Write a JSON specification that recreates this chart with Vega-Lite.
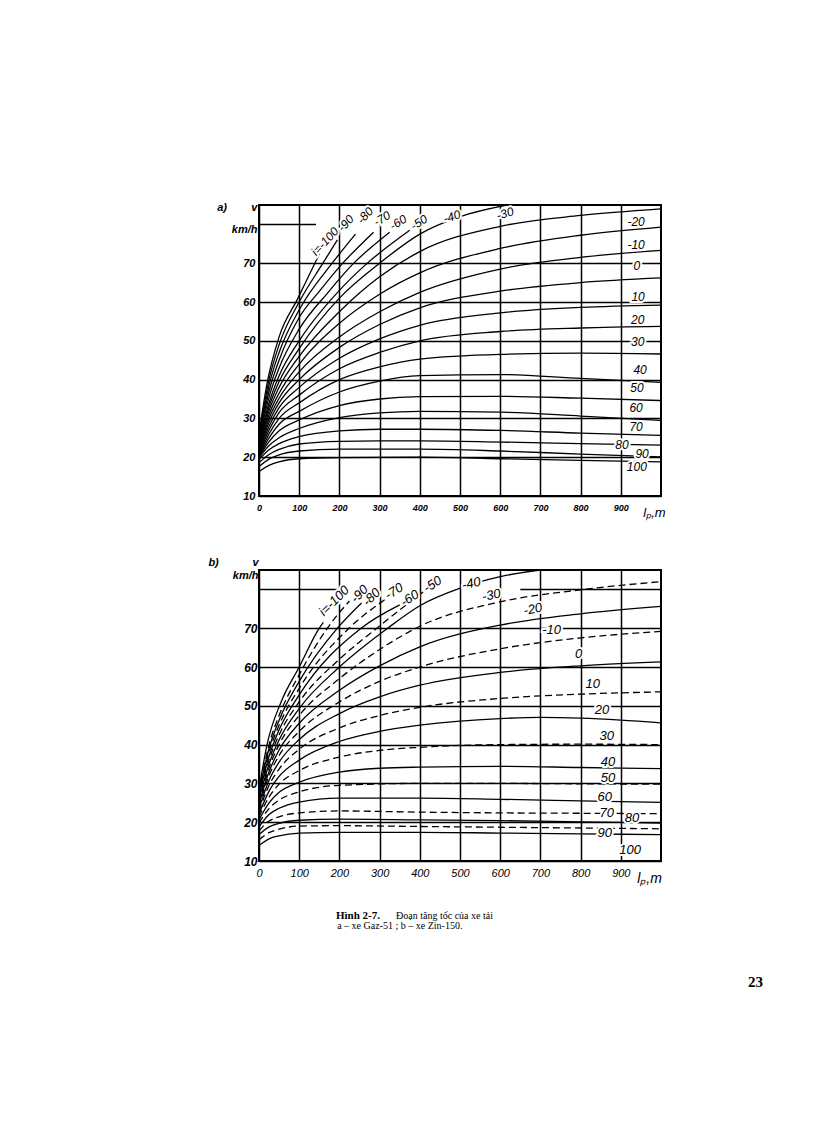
{
"$schema":"https://vega.github.io/schema/vega-lite/v6.json",
"background":"white",
"padding":{"left":206,"top":200,"right":5,"bottom":5},
"bounds":"full",
"spacing":14,
"datasets":{
"ca":[
{"i":-100,"x":0,"v":26},{"i":-100,"x":20,"v":39},{"i":-100,"x":50,"v":51},{"i":-100,"x":97,"v":61},{"i":-100,"x":139,"v":70},{"i":-100,"x":150,"v":72.3},
{"i":-90,"x":0,"v":25.5},{"i":-90,"x":25,"v":40},{"i":-90,"x":50,"v":49},{"i":-90,"x":100,"v":60},{"i":-90,"x":159,"v":70},{"i":-90,"x":195,"v":76},
{"i":-80,"x":0,"v":25},{"i":-80,"x":25,"v":38.5},{"i":-80,"x":50,"v":47},{"i":-80,"x":100,"v":58},{"i":-80,"x":182,"v":70},{"i":-80,"x":240,"v":77.5},
{"i":-70,"x":0,"v":24.5},{"i":-70,"x":25,"v":37},{"i":-70,"x":50,"v":45},{"i":-70,"x":100,"v":56},{"i":-70,"x":152,"v":63},{"i":-70,"x":204,"v":69.5},{"i":-70,"x":285,"v":78},
{"i":-60,"x":0,"v":24},{"i":-60,"x":25,"v":35.5},{"i":-60,"x":50,"v":43},{"i":-60,"x":100,"v":53},{"i":-60,"x":172,"v":62.5},{"i":-60,"x":231,"v":69.5},{"i":-60,"x":325,"v":78},
{"i":-50,"x":0,"v":23.5},{"i":-50,"x":25,"v":34},{"i":-50,"x":50,"v":41},{"i":-50,"x":100,"v":50},{"i":-50,"x":200,"v":63},{"i":-50,"x":264,"v":69.5},{"i":-50,"x":375,"v":78.5},
{"i":-40,"x":0,"v":23},{"i":-40,"x":25,"v":33},{"i":-40,"x":50,"v":39.5},{"i":-40,"x":100,"v":48},{"i":-40,"x":200,"v":61},{"i":-40,"x":300,"v":70},{"i":-40,"x":400,"v":77.5},{"i":-40,"x":500,"v":82},{"i":-40,"x":617,"v":85},
{"i":-30,"x":0,"v":22.5},{"i":-30,"x":25,"v":32},{"i":-30,"x":50,"v":38},{"i":-30,"x":100,"v":46},{"i":-30,"x":200,"v":57.5},{"i":-30,"x":300,"v":66.5},{"i":-30,"x":400,"v":73},{"i":-30,"x":600,"v":79.5},{"i":-30,"x":800,"v":82.3},{"i":-30,"x":1000,"v":84},
{"i":-20,"x":0,"v":22},{"i":-20,"x":25,"v":31},{"i":-20,"x":50,"v":36.5},{"i":-20,"x":100,"v":44},{"i":-20,"x":200,"v":54.5},{"i":-20,"x":300,"v":62},{"i":-20,"x":400,"v":67.5},{"i":-20,"x":600,"v":73.8},{"i":-20,"x":800,"v":77.2},{"i":-20,"x":1000,"v":79.3},
{"i":-10,"x":0,"v":21.6},{"i":-10,"x":25,"v":30},{"i":-10,"x":50,"v":35.2},{"i":-10,"x":100,"v":42},{"i":-10,"x":200,"v":51},{"i":-10,"x":300,"v":57.5},{"i":-10,"x":400,"v":62.5},{"i":-10,"x":600,"v":68.5},{"i":-10,"x":800,"v":71.5},{"i":-10,"x":1000,"v":73.3},
{"i":0,"x":0,"v":21.2},{"i":0,"x":25,"v":29},{"i":0,"x":50,"v":34},{"i":0,"x":100,"v":40},{"i":0,"x":200,"v":48.3},{"i":0,"x":300,"v":54.2},{"i":0,"x":400,"v":58.5},{"i":0,"x":600,"v":62.8},{"i":0,"x":800,"v":65},{"i":0,"x":1000,"v":66.2},
{"i":10,"x":0,"v":20.9},{"i":10,"x":25,"v":28},{"i":10,"x":50,"v":32.8},{"i":10,"x":100,"v":38},{"i":10,"x":200,"v":45.5},{"i":10,"x":300,"v":50.5},{"i":10,"x":400,"v":54},{"i":10,"x":600,"v":57.2},{"i":10,"x":800,"v":58.6},{"i":10,"x":1000,"v":59.2},
{"i":20,"x":0,"v":20.6},{"i":20,"x":25,"v":27},{"i":20,"x":50,"v":31.5},{"i":20,"x":100,"v":36},{"i":20,"x":200,"v":42.8},{"i":20,"x":300,"v":47},{"i":20,"x":400,"v":50},{"i":20,"x":600,"v":52.4},{"i":20,"x":800,"v":53.3},{"i":20,"x":1000,"v":53.7},
{"i":30,"x":0,"v":20.4},{"i":30,"x":25,"v":26},{"i":30,"x":50,"v":30},{"i":30,"x":100,"v":34},{"i":30,"x":200,"v":40},{"i":30,"x":300,"v":43.3},{"i":30,"x":400,"v":45.3},{"i":30,"x":600,"v":46.5},{"i":30,"x":800,"v":46.8},{"i":30,"x":1000,"v":46.6},
{"i":40,"x":0,"v":20.2},{"i":40,"x":25,"v":25},{"i":40,"x":50,"v":28.5},{"i":40,"x":100,"v":31.8},{"i":40,"x":200,"v":36.8},{"i":40,"x":300,"v":39.6},{"i":40,"x":400,"v":41},{"i":40,"x":600,"v":41.3},{"i":40,"x":800,"v":40.3},{"i":40,"x":1000,"v":39.3},
{"i":50,"x":0,"v":20},{"i":50,"x":25,"v":24},{"i":50,"x":50,"v":26.8},{"i":50,"x":100,"v":29.6},{"i":50,"x":200,"v":33.3},{"i":50,"x":300,"v":35},{"i":50,"x":400,"v":35.6},{"i":50,"x":600,"v":35.7},{"i":50,"x":800,"v":35.2},{"i":50,"x":1000,"v":34.6},
{"i":60,"x":0,"v":19.8},{"i":60,"x":25,"v":23},{"i":60,"x":50,"v":25},{"i":60,"x":100,"v":27.4},{"i":60,"x":200,"v":30.2},{"i":60,"x":300,"v":31.4},{"i":60,"x":400,"v":31.8},{"i":60,"x":600,"v":31.6},{"i":60,"x":800,"v":30.6},{"i":60,"x":1000,"v":29.5},
{"i":70,"x":0,"v":19.4},{"i":70,"x":25,"v":21.9},{"i":70,"x":50,"v":23.5},{"i":70,"x":100,"v":25.3},{"i":70,"x":200,"v":26.8},{"i":70,"x":300,"v":27.2},{"i":70,"x":400,"v":27.2},{"i":70,"x":600,"v":26.9},{"i":70,"x":800,"v":26.2},{"i":70,"x":1000,"v":25.6},
{"i":80,"x":0,"v":18.6},{"i":80,"x":25,"v":20.7},{"i":80,"x":50,"v":22},{"i":80,"x":100,"v":23.4},{"i":80,"x":200,"v":24.1},{"i":80,"x":300,"v":24.2},{"i":80,"x":400,"v":24.2},{"i":80,"x":600,"v":23.9},{"i":80,"x":800,"v":23.5},{"i":80,"x":1000,"v":23.1},
{"i":90,"x":0,"v":17.6},{"i":90,"x":25,"v":19.5},{"i":90,"x":50,"v":20.6},{"i":90,"x":100,"v":21.6},{"i":90,"x":200,"v":22.1},{"i":90,"x":400,"v":22.1},{"i":90,"x":600,"v":21.6},{"i":90,"x":800,"v":20.8},{"i":90,"x":1000,"v":20.1},
{"i":100,"x":0,"v":16.3},{"i":100,"x":25,"v":17.9},{"i":100,"x":50,"v":18.8},{"i":100,"x":100,"v":19.6},{"i":100,"x":200,"v":19.9},{"i":100,"x":400,"v":20},{"i":100,"x":600,"v":19.6},{"i":100,"x":800,"v":19.2},{"i":100,"x":1000,"v":18.8}
],
"cb":[
{"i":-100,"x":0,"v":28.4},{"i":-100,"x":20,"v":40},{"i":-100,"x":55,"v":51},{"i":-100,"x":100,"v":60},{"i":-100,"x":150,"v":70},{"i":-100,"x":160,"v":71.5},
{"i":-90,"x":0,"v":28},{"i":-90,"x":25,"v":40},{"i":-90,"x":50,"v":47.5},{"i":-90,"x":100,"v":58},{"i":-90,"x":170,"v":70},{"i":-90,"x":225,"v":77},
{"i":-80,"x":0,"v":27.6},{"i":-80,"x":25,"v":39},{"i":-80,"x":50,"v":46.3},{"i":-80,"x":100,"v":56.3},{"i":-80,"x":195,"v":70},{"i":-80,"x":255,"v":76.5},
{"i":-70,"x":0,"v":27.2},{"i":-70,"x":25,"v":38},{"i":-70,"x":50,"v":45},{"i":-70,"x":100,"v":54.5},{"i":-70,"x":224,"v":70},{"i":-70,"x":315,"v":77.5},
{"i":-60,"x":0,"v":26.8},{"i":-60,"x":25,"v":37},{"i":-60,"x":50,"v":43.8},{"i":-60,"x":100,"v":52.8},{"i":-60,"x":254,"v":70},{"i":-60,"x":350,"v":76},
{"i":-50,"x":0,"v":26.3},{"i":-50,"x":25,"v":36},{"i":-50,"x":50,"v":42.5},{"i":-50,"x":100,"v":51},{"i":-50,"x":200,"v":62},{"i":-50,"x":287,"v":69.5},{"i":-50,"x":410,"v":79.5},
{"i":-40,"x":0,"v":25.8},{"i":-40,"x":25,"v":35},{"i":-40,"x":50,"v":41.2},{"i":-40,"x":100,"v":49.3},{"i":-40,"x":200,"v":60},{"i":-40,"x":320,"v":70},{"i":-40,"x":400,"v":75.8},{"i":-40,"x":500,"v":80.3},{"i":-40,"x":600,"v":83.3},{"i":-40,"x":700,"v":85},
{"i":-30,"x":0,"v":25.2},{"i":-30,"x":25,"v":34},{"i":-30,"x":50,"v":40},{"i":-30,"x":100,"v":47.5},{"i":-30,"x":200,"v":57},{"i":-30,"x":300,"v":64.5},{"i":-30,"x":400,"v":70.5},{"i":-30,"x":600,"v":76.8},{"i":-30,"x":800,"v":79.9},{"i":-30,"x":1000,"v":82},
{"i":-20,"x":0,"v":24.6},{"i":-20,"x":25,"v":33},{"i":-20,"x":50,"v":38.6},{"i":-20,"x":100,"v":45.5},{"i":-20,"x":200,"v":54},{"i":-20,"x":300,"v":60.3},{"i":-20,"x":400,"v":65.2},{"i":-20,"x":600,"v":70.8},{"i":-20,"x":800,"v":73.7},{"i":-20,"x":1000,"v":75.6},
{"i":-10,"x":0,"v":24},{"i":-10,"x":25,"v":32},{"i":-10,"x":50,"v":37.2},{"i":-10,"x":100,"v":43.4},{"i":-10,"x":200,"v":51},{"i":-10,"x":300,"v":56.3},{"i":-10,"x":400,"v":60},{"i":-10,"x":600,"v":64.7},{"i":-10,"x":800,"v":67.5},{"i":-10,"x":1000,"v":69.2},
{"i":0,"x":0,"v":23.4},{"i":0,"x":25,"v":30.8},{"i":0,"x":50,"v":35.5},{"i":0,"x":100,"v":41.3},{"i":0,"x":200,"v":48},{"i":0,"x":300,"v":52.3},{"i":0,"x":400,"v":55.3},{"i":0,"x":600,"v":58.6},{"i":0,"x":800,"v":60.3},{"i":0,"x":1000,"v":61.3},
{"i":10,"x":0,"v":22.8},{"i":10,"x":25,"v":29.5},{"i":10,"x":50,"v":33.7},{"i":10,"x":100,"v":38.8},{"i":10,"x":200,"v":44.3},{"i":10,"x":300,"v":47.5},{"i":10,"x":400,"v":49.6},{"i":10,"x":600,"v":51.9},{"i":10,"x":800,"v":53},{"i":10,"x":1000,"v":53.6},
{"i":20,"x":0,"v":22.1},{"i":20,"x":25,"v":28},{"i":20,"x":50,"v":31.8},{"i":20,"x":100,"v":36},{"i":20,"x":200,"v":40.8},{"i":20,"x":300,"v":43.4},{"i":20,"x":400,"v":45},{"i":20,"x":600,"v":46.7},{"i":20,"x":700,"v":47},{"i":20,"x":800,"v":46.8},{"i":20,"x":900,"v":46.3},{"i":20,"x":1000,"v":45.6},
{"i":30,"x":0,"v":21.4},{"i":30,"x":25,"v":26.5},{"i":30,"x":50,"v":29.8},{"i":30,"x":100,"v":33.3},{"i":30,"x":200,"v":36.8},{"i":30,"x":300,"v":38.5},{"i":30,"x":400,"v":39.3},{"i":30,"x":600,"v":40},{"i":30,"x":800,"v":40.1},{"i":30,"x":1000,"v":40},
{"i":40,"x":0,"v":20.6},{"i":40,"x":25,"v":25},{"i":40,"x":50,"v":27.7},{"i":40,"x":100,"v":30.3},{"i":40,"x":200,"v":32.9},{"i":40,"x":300,"v":33.9},{"i":40,"x":400,"v":34.2},{"i":40,"x":600,"v":34.4},{"i":40,"x":800,"v":34.1},{"i":40,"x":1000,"v":33.8},
{"i":50,"x":0,"v":19.8},{"i":50,"x":25,"v":23.5},{"i":50,"x":50,"v":25.7},{"i":50,"x":100,"v":27.8},{"i":50,"x":200,"v":29.5},{"i":50,"x":400,"v":30},{"i":50,"x":600,"v":30},{"i":50,"x":800,"v":29.9},{"i":50,"x":1000,"v":29.8},
{"i":60,"x":0,"v":18.8},{"i":60,"x":25,"v":22},{"i":60,"x":50,"v":23.6},{"i":60,"x":100,"v":25.2},{"i":60,"x":200,"v":26.2},{"i":60,"x":400,"v":26.2},{"i":60,"x":600,"v":25.9},{"i":60,"x":800,"v":25.5},{"i":60,"x":1000,"v":25.1},
{"i":70,"x":0,"v":17.8},{"i":70,"x":25,"v":20.3},{"i":70,"x":50,"v":21.4},{"i":70,"x":100,"v":22.4},{"i":70,"x":200,"v":22.9},{"i":70,"x":400,"v":22.6},{"i":70,"x":600,"v":22.4},{"i":70,"x":800,"v":22.3},{"i":70,"x":1000,"v":22.2},
{"i":80,"x":0,"v":16.8},{"i":80,"x":25,"v":18.8},{"i":80,"x":50,"v":19.7},{"i":80,"x":100,"v":20.5},{"i":80,"x":200,"v":20.8},{"i":80,"x":400,"v":20.6},{"i":80,"x":600,"v":20.4},{"i":80,"x":800,"v":20.1},{"i":80,"x":1000,"v":19.8},
{"i":90,"x":0,"v":15.5},{"i":90,"x":25,"v":17.3},{"i":90,"x":50,"v":18.2},{"i":90,"x":100,"v":19},{"i":90,"x":200,"v":19.1},{"i":90,"x":400,"v":18.9},{"i":90,"x":600,"v":18.7},{"i":90,"x":800,"v":18.5},{"i":90,"x":1000,"v":18.3},
{"i":100,"x":0,"v":14},{"i":100,"x":25,"v":15.7},{"i":100,"x":50,"v":16.5},{"i":100,"x":100,"v":17.2},{"i":100,"x":200,"v":17.4},{"i":100,"x":400,"v":17.4},{"i":100,"x":600,"v":17.2},{"i":100,"x":800,"v":17},{"i":100,"x":1000,"v":16.8}
],
"ga":[{"x":0,"x2":142,"v":80}],
"gb":[{"x":0,"x2":195,"v":80},{"x":650,"x2":1000,"v":80}],
"la":[
{"t":"i=-100","x":164,"v":75.6,"g":"s"},{"t":"-90","x":216,"v":80.3,"g":"s"},{"t":"-80","x":264,"v":82.3,"g":"s"},
{"t":"-70","x":306,"v":81.5,"g":"m"},{"t":"-60","x":346,"v":80.5,"g":"m"},{"t":"-50","x":398,"v":80.5,"g":"m"},
{"t":"-40","x":480,"v":82,"g":"l"},{"t":"-30","x":612,"v":82.8,"g":"l"},
{"t":"-20","x":938,"v":80.6,"g":"f"},{"t":"-10","x":938,"v":74.6,"g":"f"},{"t":"0","x":940,"v":69.2,"g":"f"},{"t":"10","x":943,"v":61.4,"g":"f"},{"t":"20","x":942,"v":55.4,"g":"f"},{"t":"30","x":942,"v":49.8,"g":"f"},{"t":"40","x":948,"v":42.6,"g":"f"},{"t":"50","x":940,"v":37.9,"g":"f"},{"t":"60","x":938,"v":32.6,"g":"f"},{"t":"70","x":938,"v":27.7,"g":"f"},{"t":"80","x":903,"v":23.1,"g":"f"},{"t":"90","x":953,"v":20.8,"g":"f"},{"t":"100","x":940,"v":17.5,"g":"f"}
],
"lb":[
{"t":"i=-100","x":187,"v":77,"g":"s"},{"t":"-90","x":250,"v":78.8,"g":"s"},{"t":"-80","x":280,"v":78,"g":"s"},
{"t":"-70","x":336,"v":79.5,"g":"m"},{"t":"-60","x":375,"v":77.7,"g":"m"},{"t":"-50","x":432,"v":81.3,"g":"m"},
{"t":"-40","x":528,"v":81.5,"g":"l"},{"t":"-30","x":578,"v":78.5,"g":"l"},{"t":"-20","x":681,"v":74.9,"g":"l"},
{"t":"-10","x":728,"v":69.5,"g":"f"},{"t":"0","x":795,"v":63.3,"g":"f"},{"t":"10","x":830,"v":55.6,"g":"f"},{"t":"20","x":853,"v":49,"g":"f"},{"t":"30","x":865,"v":42.3,"g":"f"},{"t":"40","x":868,"v":35.6,"g":"f"},{"t":"50","x":868,"v":31.3,"g":"f"},{"t":"60","x":860,"v":26.4,"g":"f"},{"t":"70","x":865,"v":22.3,"g":"f"},{"t":"80","x":928,"v":21,"g":"f"},{"t":"90","x":860,"v":17.2,"g":"f"},{"t":"100","x":923,"v":12.8,"g":"f"}
],
"cap":[
{"t":"Hình 2-7.","x":192,"y":1.6,"r":"fig"},
{"t":"Đoạn tăng tốc của xe tải","x":342,"y":1.6,"r":"cap"},
{"t":"a – xe Gaz-51 ; b – xe Zin-150.","x":195,"y":2.55,"r":"cap"},
{"t":"23","x":1239,"y":8.2,"r":"page"}
]
},
"vconcat":[
{"bounds":"flush","spacing":74,"vconcat":[
{"width":402,"height":291,
"layer":[
{"data":{"name":"ca"},"mark":{"type":"line","color":"#000","strokeWidth":1.3,"interpolate":"monotone","clip":true},
"encoding":{
"x":{"field":"x","type":"quantitative","scale":{"domain":[0,1000],"nice":false},"axis":{"values":[0,100,200,300,400,500,600,700,800,900],"labelFontSize":9,"labelPadding":7,"title":"lₚ,m","titleFontSize":13,"titleFontWeight":"normal","titleX":395,"titleY":20,"titleAlign":"center","titleBaseline":"alphabetic"}},
"y":{"field":"v","type":"quantitative","scale":{"domain":[10,85],"nice":false,"zero":false},"axis":{"values":[10,20,30,40,50,60,70],"labelFontSize":11,"labelPadding":4,"title":["a)\u00a0\u00a0\u00a0\u00a0\u00a0\u00a0\u00a0\u00a0v","km/h"],"titleFontSize":11,"titleAngle":0,"titleAlign":"right","titleX":-2,"titleY":5,"titleBaseline":"alphabetic","titleLineHeight":22}},
"detail":{"field":"i","type":"nominal"}}},
{"data":{"name":"ga"},"mark":{"type":"rule","color":"#000","strokeWidth":1.5},
"encoding":{"x":{"field":"x","type":"quantitative"},"x2":{"field":"x2"},"y":{"field":"v","type":"quantitative"}}},
{"data":{"name":"la"},"mark":{"type":"text","font":"Liberation Sans","fontStyle":"italic","fontSize":12,"color":"#fff","stroke":"#fff","strokeWidth":4,"align":"center","baseline":"middle","angle":{"expr":"datum.g=='s'?313:datum.g=='m'?328:datum.g=='l'?342:0"}},
"encoding":{"x":{"field":"x","type":"quantitative"},"y":{"field":"v","type":"quantitative"},"text":{"field":"t"}}},
{"data":{"name":"la"},"mark":{"type":"text","font":"Liberation Sans","fontStyle":"italic","fontSize":12,"color":"#000","align":"center","baseline":"middle","angle":{"expr":"datum.g=='s'?313:datum.g=='m'?328:datum.g=='l'?342:0"}},
"encoding":{"x":{"field":"x","type":"quantitative"},"y":{"field":"v","type":"quantitative"},"text":{"field":"t"}}}
]},
{"width":402,"height":291,
"layer":[
{"data":{"name":"cb"},"transform":[{"filter":"datum.i % 20 == 0"}],"mark":{"type":"line","color":"#000","strokeWidth":1.3,"interpolate":"monotone","clip":true},
"encoding":{
"x":{"field":"x","type":"quantitative","scale":{"domain":[0,1000],"nice":false},"axis":{"values":[0,100,200,300,400,500,600,700,800,900],"labelFontSize":11,"labelFontWeight":"normal","labelPadding":6,"title":"lₚ,m","titleFontSize":14,"titleFontWeight":"normal","titleX":390,"titleY":21,"titleAlign":"center","titleBaseline":"alphabetic"}},
"y":{"field":"v","type":"quantitative","scale":{"domain":[10,85],"nice":false,"zero":false},"axis":{"values":[10,20,30,40,50,60,70],"labelFontSize":12,"labelPadding":2,"title":["b)\u00a0\u00a0\u00a0\u00a0\u00a0\u00a0\u00a0\u00a0\u00a0\u00a0\u00a0v","km/h"],"titleFontSize":11,"titleAngle":0,"titleAlign":"right","titleX":-1,"titleY":-5,"titleBaseline":"alphabetic","titleLineHeight":13}},
"detail":{"field":"i","type":"nominal"}}},
{"data":{"name":"cb"},"transform":[{"filter":"datum.i % 20 != 0"}],"mark":{"type":"line","color":"#000","strokeWidth":1.3,"strokeDash":[7,4],"interpolate":"monotone","clip":true},
"encoding":{"x":{"field":"x","type":"quantitative"},"y":{"field":"v","type":"quantitative"},"detail":{"field":"i","type":"nominal"}}},
{"data":{"name":"gb"},"mark":{"type":"rule","color":"#000","strokeWidth":1.5},
"encoding":{"x":{"field":"x","type":"quantitative"},"x2":{"field":"x2"},"y":{"field":"v","type":"quantitative"}}},
{"data":{"name":"lb"},"mark":{"type":"text","font":"Liberation Sans","fontStyle":"italic","fontSize":13,"color":"#fff","stroke":"#fff","strokeWidth":4,"align":"center","baseline":"middle","angle":{"expr":"datum.g=='s'?315:datum.g=='m'?328:datum.g=='l'?348:0"}},
"encoding":{"x":{"field":"x","type":"quantitative"},"y":{"field":"v","type":"quantitative"},"text":{"field":"t"}}},
{"data":{"name":"lb"},"mark":{"type":"text","font":"Liberation Sans","fontStyle":"italic","fontSize":13,"color":"#000","align":"center","baseline":"middle","angle":{"expr":"datum.g=='s'?315:datum.g=='m'?328:datum.g=='l'?348:0"}},
"encoding":{"x":{"field":"x","type":"quantitative"},"y":{"field":"v","type":"quantitative"},"text":{"field":"t"}}}
]}
]},
{"width":501,"height":100,"view":{"stroke":null},"data":{"name":"cap"},
"encoding":{"x":{"field":"x","type":"quantitative","scale":{"domain":[0,1250],"nice":false},"axis":null},"y":{"field":"y","type":"quantitative","scale":{"domain":[0,10],"nice":false,"reverse":true},"axis":null},"text":{"field":"t"}},
"layer":[
{"transform":[{"filter":"datum.r=='fig'"}],"mark":{"type":"text","font":"Liberation Serif","fontWeight":"bold","fontSize":11,"align":"left","baseline":"middle","color":"#000"}},
{"transform":[{"filter":"datum.r=='cap'"}],"mark":{"type":"text","font":"Liberation Serif","fontSize":10,"align":"left","baseline":"middle","color":"#000"}},
{"transform":[{"filter":"datum.r=='page'"}],"mark":{"type":"text","font":"Liberation Serif","fontWeight":"bold","fontSize":15,"align":"center","baseline":"middle","color":"#000"}}
]}
],
"config":{
"view":{"stroke":"#000","strokeWidth":2},
"axis":{"grid":true,"gridColor":"#000","gridWidth":1.5,"gridOpacity":1,"domain":false,"ticks":false,"tickSize":0,"labelColor":"#000","labelFont":"Liberation Sans","labelFontStyle":"italic","labelFontWeight":"bold","labelFlush":false,"labelOverlap":false,"titleColor":"#000","titleFont":"Liberation Sans","titleFontStyle":"italic","titleFontWeight":"bold"}
}
}
